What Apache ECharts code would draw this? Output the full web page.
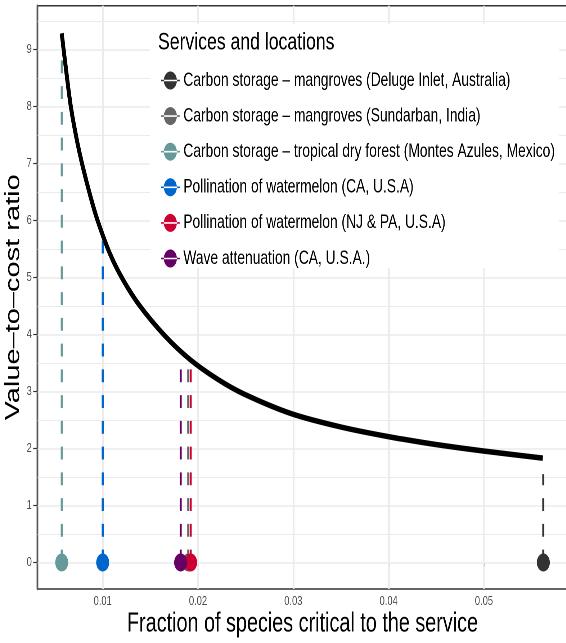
<!DOCTYPE html>
<html><head><meta charset="utf-8">
<script src="https://cdn.jsdelivr.net/npm/echarts@6/dist/echarts.min.js"></script>
<style>
html,body{margin:0;padding:0;width:566px;height:643px;overflow:hidden;background:#fff}
#c{width:800px;height:643px;transform:scaleX(0.72);transform-origin:0 0;}
</style>
</head><body><div id="c"></div>
<script>
// ---- data ----
const curveX = [0.0057, 0.0062, 0.00667, 0.0073, 0.0079, 0.0087, 0.00948, 0.0108, 0.01216, 0.0139, 0.0165, 0.01916, 0.0220, 0.02476, 0.0298, 0.0349, 0.0399, 0.04494, 0.04994, 0.05617];
const curveY = [9.28, 8.58, 7.98, 7.40, 6.95, 6.43, 5.99, 5.40, 4.95, 4.50, 3.98, 3.56, 3.22, 2.96, 2.61, 2.38, 2.21, 2.07, 1.955, 1.83];

const seriesNames = [
  'Carbon storage – mangroves (Deluge Inlet, Australia)',
  'Carbon storage – mangroves (Sundarban, India)',
  'Carbon storage – tropical dry forest (Montes Azules, Mexico)',
  'Pollination of watermelon (CA, U.S.A)',
  'Pollination of watermelon (NJ & PA, U.S.A)',
  'Wave attenuation (CA, U.S.A.)'
];
const seriesColors = ['#333333', '#666666', '#669999', '#0066CC', '#CC0033', '#660066'];
const pointX = [0.05623, 0.01898, 0.0057, 0.0100, 0.01923, 0.01818];
const pointY = [0, 0, 0, 0, 0, 0];
const segmentTop = [1.55, 3.5, 8.9, 5.72, 3.5, 3.5];

const xTickValues = [0.01, 0.02, 0.03, 0.04, 0.05];
const xTickLabels = ['0.01', '0.02', '0.03', '0.04', '0.05'];
const yTickValues = [0, 1, 2, 3, 4, 5, 6, 7, 8, 9];
const yTickLabels = ['0', '1', '2', '3', '4', '5', '6', '7', '8', '9'];
const xMinorGrid = [0.005, 0.015, 0.025, 0.035, 0.045, 0.055];
const yMinorGrid = [0.5, 1.5, 2.5, 3.5, 4.5, 5.5, 6.5, 7.5, 8.5, 9.5];

const xTitle = 'Fraction of species critical to the service';
const yTitle = 'Value–to–cost ratio';
const legendTitle = 'Services and locations';

// ---- chart ----
const FONT = "'Liberation Sans', Arial, Helvetica, sans-serif";
const chart = echarts.init(document.getElementById('c'), null, {devicePixelRatio: 2});

const gridLines = [];
xTickValues.forEach(v => gridLines.push({xAxis: v, lineStyle: {width: 1.9}}));
xMinorGrid.forEach(v => gridLines.push({xAxis: v, lineStyle: {width: 1.4}}));
yTickValues.forEach(v => gridLines.push({yAxis: v, lineStyle: {width: 1.5}}));
yMinorGrid.forEach(v => gridLines.push({yAxis: v, lineStyle: {width: 1.1}}));

const series = [{
  type: 'line', name: '__grid', data: [], silent: true, z: 1,
  markLine: {
    silent: true, animation: false, z: 1,
    symbol: ['none', 'none'], label: {show: false},
    lineStyle: {color: '#EBEBEB', type: 'solid'},
    emphasis: {disabled: true},
    data: gridLines
  }
}];

seriesNames.forEach((name, i) => {
  series.push({
    type: 'line', name: name, z: 10 + i, animation: false, silent: true,
    color: seriesColors[i],
    itemStyle: {color: seriesColors[i], opacity: 1},
    lineStyle: {color: seriesColors[i], width: 2.8, type: [12.875, 12.875], cap: 'butt'},
    symbol: 'circle', symbolSize: 18, showSymbol: true,
    data: [
      {value: [pointX[i], pointY[i]], symbol: 'circle'},
      {value: [pointX[i], segmentTop[i]], symbol: 'none'}
    ]
  });
});

series.push({
  type: 'line', name: '__curve', z: 20, animation: false, silent: true,
  showSymbol: false, symbol: 'none', smooth: 0.3,
  lineStyle: {color: '#000000', width: 5.5, cap: 'butt', join: 'round'},
  data: curveX.map((x, i) => [x, curveY[i]])
});

const iconPath = 'path://M0,8.2L26,8.2L26,9.8L0,9.8Z M4,9A9,9 0 1,0 22,9A9,9 0 1,0 4,9Z';

chart.setOption({
  animation: false,
  textStyle: {fontFamily: FONT},
  grid: {left: 52.2, right: 11.9, top: 5.7, bottom: 54, show: true, containLabel: false,
         outerBoundsMode: 'none',
         backgroundColor: '#ffffff', borderColor: '#333333', borderWidth: 1.5},
  title: {text: legendTitle, left: 219.4, top: 30, padding: 0,
          textStyle: {fontFamily: FONT, fontSize: 24.5, fontWeight: 'normal', color: '#000'}},
  legend: {
    orient: 'vertical', left: 223.6, top: 71, padding: 0,
    itemWidth: 26, itemHeight: 18, itemGap: 16.6, selectedMode: false,
    textStyle: {fontFamily: FONT, fontSize: 19.2, color: '#000'},
    data: seriesNames.map(n => ({name: n, icon: iconPath}))
  },
  graphic: [{type: 'rect', z: 3, silent: true,
    shape: {x: 208.3, y: 24, width: 568.1, height: 244}, style: {fill: '#ffffff'}}],
  xAxis: {
    type: 'value', min: 0.00317, max: 0.05876,
    name: xTitle, nameLocation: 'middle', nameGap: 21, nameMoveOverlap: false,
    nameTextStyle: {fontFamily: FONT, fontSize: 27.5, color: '#000'},
    axisLine: {show: false},
    splitLine: {show: false},
    axisTick: {show: true, length: 4, customValues: xTickValues, lineStyle: {color: '#333', width: 1.4}},
    axisLabel: {show: true, margin: 6, customValues: xTickValues, fontFamily: FONT, fontSize: 13, color: '#4D4D4D',
      formatter: v => { const k = xTickValues.findIndex(t => Math.abs(t - v) < 1e-9); return k >= 0 ? xTickLabels[k] : ''; }}
  },
  yAxis: {
    type: 'value', min: -0.465, max: 9.765,
    name: yTitle, nameLocation: 'middle', nameGap: 19, nameRotate: 90, nameMoveOverlap: false,
    nameTextStyle: {fontFamily: FONT, fontSize: 29, color: '#000'},
    axisLine: {show: true, lineStyle: {color: '#555555', width: 2.4}},
    splitLine: {show: false},
    axisTick: {show: true, length: 6, customValues: yTickValues, lineStyle: {color: '#333', width: 1.2}},
    axisLabel: {show: true, margin: 8, customValues: yTickValues, fontFamily: FONT, fontSize: 13, color: '#4D4D4D',
      formatter: v => { const k = yTickValues.findIndex(t => Math.abs(t - v) < 1e-9); return k >= 0 ? yTickLabels[k] : ''; }}
  },
  series: series
});
</script>
</body></html>
